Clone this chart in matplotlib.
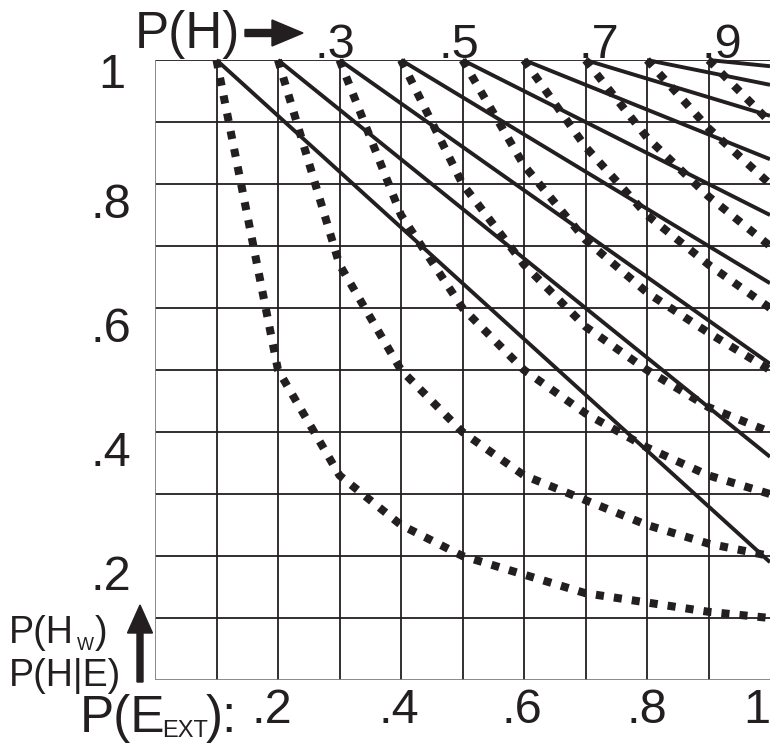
"""Grid chart: P(H_W) (solid) and P(H|E) (dotted) against P(E_EXT), one pair per P(H)."""
import matplotlib
matplotlib.use("Agg")
import matplotlib.pyplot as plt
from matplotlib.patches import FancyArrow
from matplotlib.transforms import IdentityTransform

INK = "#231f20"
W, H = 770, 743

# x positions of the read-off points
p_e = [0.1, 0.2, 0.3, 0.4, 0.5, 0.6, 0.7, 0.8, 0.9, 1.0]
# starting P(H) of each pair of lines (at P(E_EXT) = P(H), value 1)
p_h = [0.1, 0.2, 0.3, 0.4, 0.5, 0.6, 0.7, 0.8, 0.9]
# solid lines: value at right edge P(E_EXT) = 1
p_hw_end = [0.19, 0.36, 0.51, 0.64, 0.75, 0.84, 0.91, 0.96, 0.99]

# dotted curves, read at each grid column from P(H) up to 1
phe_1 = [1.0, 0.50, 0.33, 0.25, 0.20, 0.17, 0.14, 0.125, 0.11, 0.10]
phe_2 = [1.0, 0.67, 0.50, 0.40, 0.33, 0.29, 0.25, 0.22, 0.20]
phe_3 = [1.0, 0.75, 0.60, 0.50, 0.43, 0.375, 0.33, 0.30]
phe_4 = [1.0, 0.80, 0.67, 0.57, 0.50, 0.44, 0.40]
phe_5 = [1.0, 0.83, 0.71, 0.625, 0.56, 0.50]
phe_6 = [1.0, 0.86, 0.75, 0.67, 0.60]
phe_7 = [1.0, 0.875, 0.78, 0.70]
phe_8 = [1.0, 0.89, 0.80]
phe_9 = [1.0, 0.90]
dotted = [phe_1, phe_2, phe_3, phe_4, phe_5, phe_6, phe_7, phe_8, phe_9]

left_labels = ["1", ".8", ".6", ".4", ".2"]
bottom_labels = [".2", ".4", ".6", ".8", "1"]
top_labels = [".3", ".5", ".7", ".9"]

plt.rcParams["font.family"] = ["Liberation Sans", "DejaVu Sans"]

fig = plt.figure(figsize=(W / 100, H / 100), dpi=100)
ax = fig.add_axes([155 / W, 63 / H, 615 / W, 620 / H])
ax.set_xlim(0, 1)
ax.set_ylim(0, 1)
ax.set_xticks([])
ax.set_yticks([])
for s in ax.spines.values():
    s.set_visible(False)

# grid
for k in range(1, 10):
    ax.axvline(k / 10, color=INK, lw=1.3, zorder=1)
for k in range(1, 11):
    ax.axhline(k / 10, color=INK, lw=1.3, zorder=1)
ax.axvline(0, color="#808080", lw=1.3, zorder=1)
ax.axhline(0, color="#808080", lw=1.3, zorder=1)

for i, h in enumerate(p_h):
    ax.plot([h, 1.0], [1.0, p_hw_end[i]], color=INK, lw=2.8,
            solid_capstyle="butt", zorder=3, clip_on=False)
    ax.plot(p_e[i:], dotted[i], color=INK, lw=5.8, dashes=(1.0, 1.25),
            dash_capstyle="butt", zorder=2, clip_on=False)


def ftext(x, y, s, size, **kw):
    # x, y in pixels from top-left, y is the baseline
    fig.text(x / W, 1 - y / H, s, fontsize=size, color=INK, va="baseline", **kw)


# left axis numbers
ftext(125, 88, left_labels[0], 35, ha="right")
for j, s in enumerate(left_labels[1:]):
    ftext(131, 218 + 124 * j, s, 35, ha="right")

# bottom axis numbers
for s, cx in zip(bottom_labels[:4], [272, 399, 522, 647]):
    ftext(cx, 723, s, 35, ha="center")
ftext(770, 723, bottom_labels[4], 35, ha="right")

# top numbers
for s, cx in zip(top_labels, [335, 459, 599, 722]):
    ftext(cx, 58, s, 35, ha="center")

ftext(135, 48, "P(H)", 37, ha="left")
ftext(80, 732, "P(E", 37, ha="left")
ftext(162, 737, "EXT", 17, ha="left")
ftext(206, 732, "):", 37, ha="left")

ftext(9, 643, "P(H", 27, ha="left")
ftext(77, 650, "W", 13, ha="left")
ftext(95, 643, ")", 27, ha="left")
ftext(9, 686, "P(H|E)", 27, ha="left")

# arrows, in figure pixels (origin bottom-left)
fig.add_artist(FancyArrow(245, H - 33, 58, 0, width=7, head_width=26, head_length=31,
                          length_includes_head=True, color=INK, transform=IdentityTransform()))
fig.add_artist(FancyArrow(140, H - 682, 0, 77, width=6, head_width=25, head_length=28,
                          length_includes_head=True, color=INK, transform=IdentityTransform()))

fig.savefig("out.png", dpi=100)
